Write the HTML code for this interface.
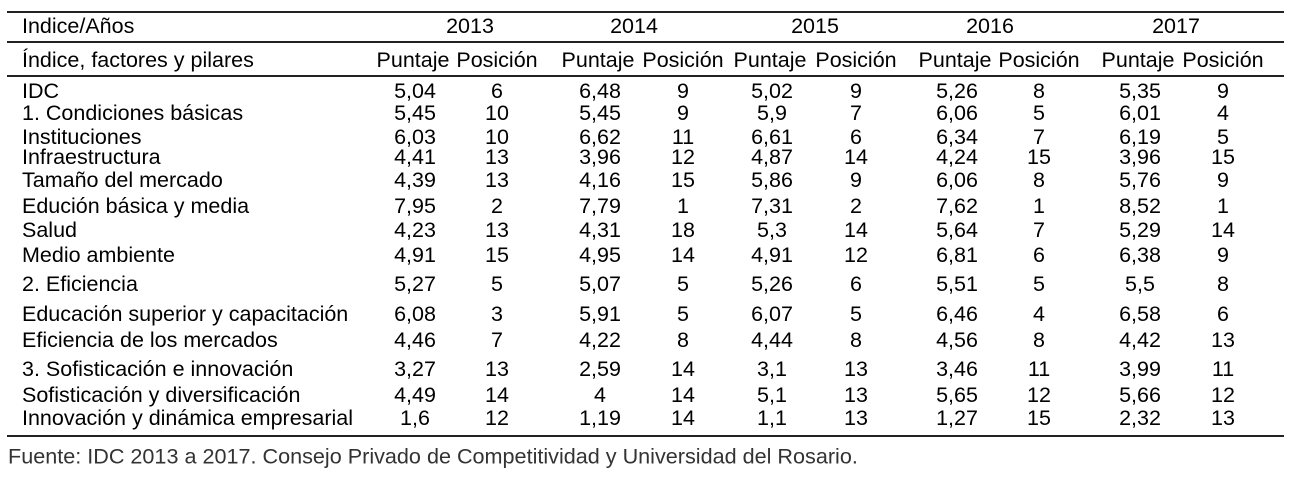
<!DOCTYPE html>
<html><head><meta charset="utf-8"><style>
html,body{margin:0;padding:0;background:#fff;}
svg{display:block;font-family:"Liberation Sans",Arial,sans-serif;}
</style></head><body>
<svg width="1295" height="477" viewBox="0 0 1295 477">
<g stroke="#222" stroke-width="2">
<line x1="7" x2="1284" y1="12" y2="12"/>
<line x1="7" x2="1284" y1="42" y2="42"/>
<line x1="7" x2="1284" y1="76" y2="76"/>
<line x1="7" x2="1284" y1="436" y2="436"/>
</g>
<g id="body" font-size="21.5" fill="#000" dominant-baseline="central"></g>
<text x="8" y="456" font-size="21.6" fill="#333" dominant-baseline="central">Fuente: IDC 2013 a 2017. Consejo Privado de Competitividad y Universidad del Rosario.</text>
</svg>
<script>
const years = ["2013","2014","2015","2016","2017"];
const rowLabels = ["IDC","1. Condiciones básicas","Instituciones","Infraestructura","Tamaño del mercado","Edución básica y media","Salud","Medio ambiente","2. Eficiencia","Educación superior y capacitación","Eficiencia de los mercados","3. Sofisticación e innovación","Sofisticación y diversificación","Innovación y dinámica empresarial"];
const scores = [
["5,04","6,48","5,02","5,26","5,35"],
["5,45","5,45","5,9","6,06","6,01"],
["6,03","6,62","6,61","6,34","6,19"],
["4,41","3,96","4,87","4,24","3,96"],
["4,39","4,16","5,86","6,06","5,76"],
["7,95","7,79","7,31","7,62","8,52"],
["4,23","4,31","5,3","5,64","5,29"],
["4,91","4,95","4,91","6,81","6,38"],
["5,27","5,07","5,26","5,51","5,5"],
["6,08","5,91","6,07","6,46","6,58"],
["4,46","4,22","4,44","4,56","4,42"],
["3,27","2,59","3,1","3,46","3,99"],
["4,49","4","5,1","5,65","5,66"],
["1,6","1,19","1,1","1,27","2,32"]];
const positions = [
[6,9,9,8,9],[10,9,7,5,4],[10,11,6,7,5],[13,12,14,15,15],[13,15,9,8,9],[2,1,2,1,1],[13,18,14,7,14],[15,14,12,6,9],[5,5,6,5,8],[3,5,5,4,6],[7,8,8,8,13],[13,14,13,11,11],[14,14,13,12,12],[12,14,13,15,13]];
const rowY = [91,113,137,157,180,206,230,255,284,314,340,369,395,418];
const puntX = [415,600,772,957,1140];
const posX = [497,683,856,1039,1223];
const yearX = [470,634,815,990,1176];
const g = document.getElementById('body');
function t(x,y,s,anchor,name){
  const e=document.createElementNS('http://www.w3.org/2000/svg','text');
  e.setAttribute('x',x);e.setAttribute('y',y);
  if(anchor)e.setAttribute('text-anchor',anchor);
  e.textContent=s;
  
  
  g.appendChild(e);return e;
}
t(22,26,"Indice/Años",null,"header-index-years");
t(22,60,"Índice, factores y pilares",null,"header-row-label");
years.forEach((y,i)=>{
  t(yearX[i],26,y,"middle","year-header-"+y);
  t(puntX[i]-2,60,"Puntaje","middle","puntaje-header-"+y);
  t(posX[i],60,"Posición","middle","posicion-header-"+y);
});
rowLabels.forEach((lab,r)=>{
  t(22,rowY[r],lab,null,"row-label");
  years.forEach((y,i)=>{
    t(puntX[i],rowY[r],scores[r][i],"middle","score-cell");
    t(posX[i],rowY[r],String(positions[r][i]),"middle","position-cell");
  });
});
</script>
</body></html>
